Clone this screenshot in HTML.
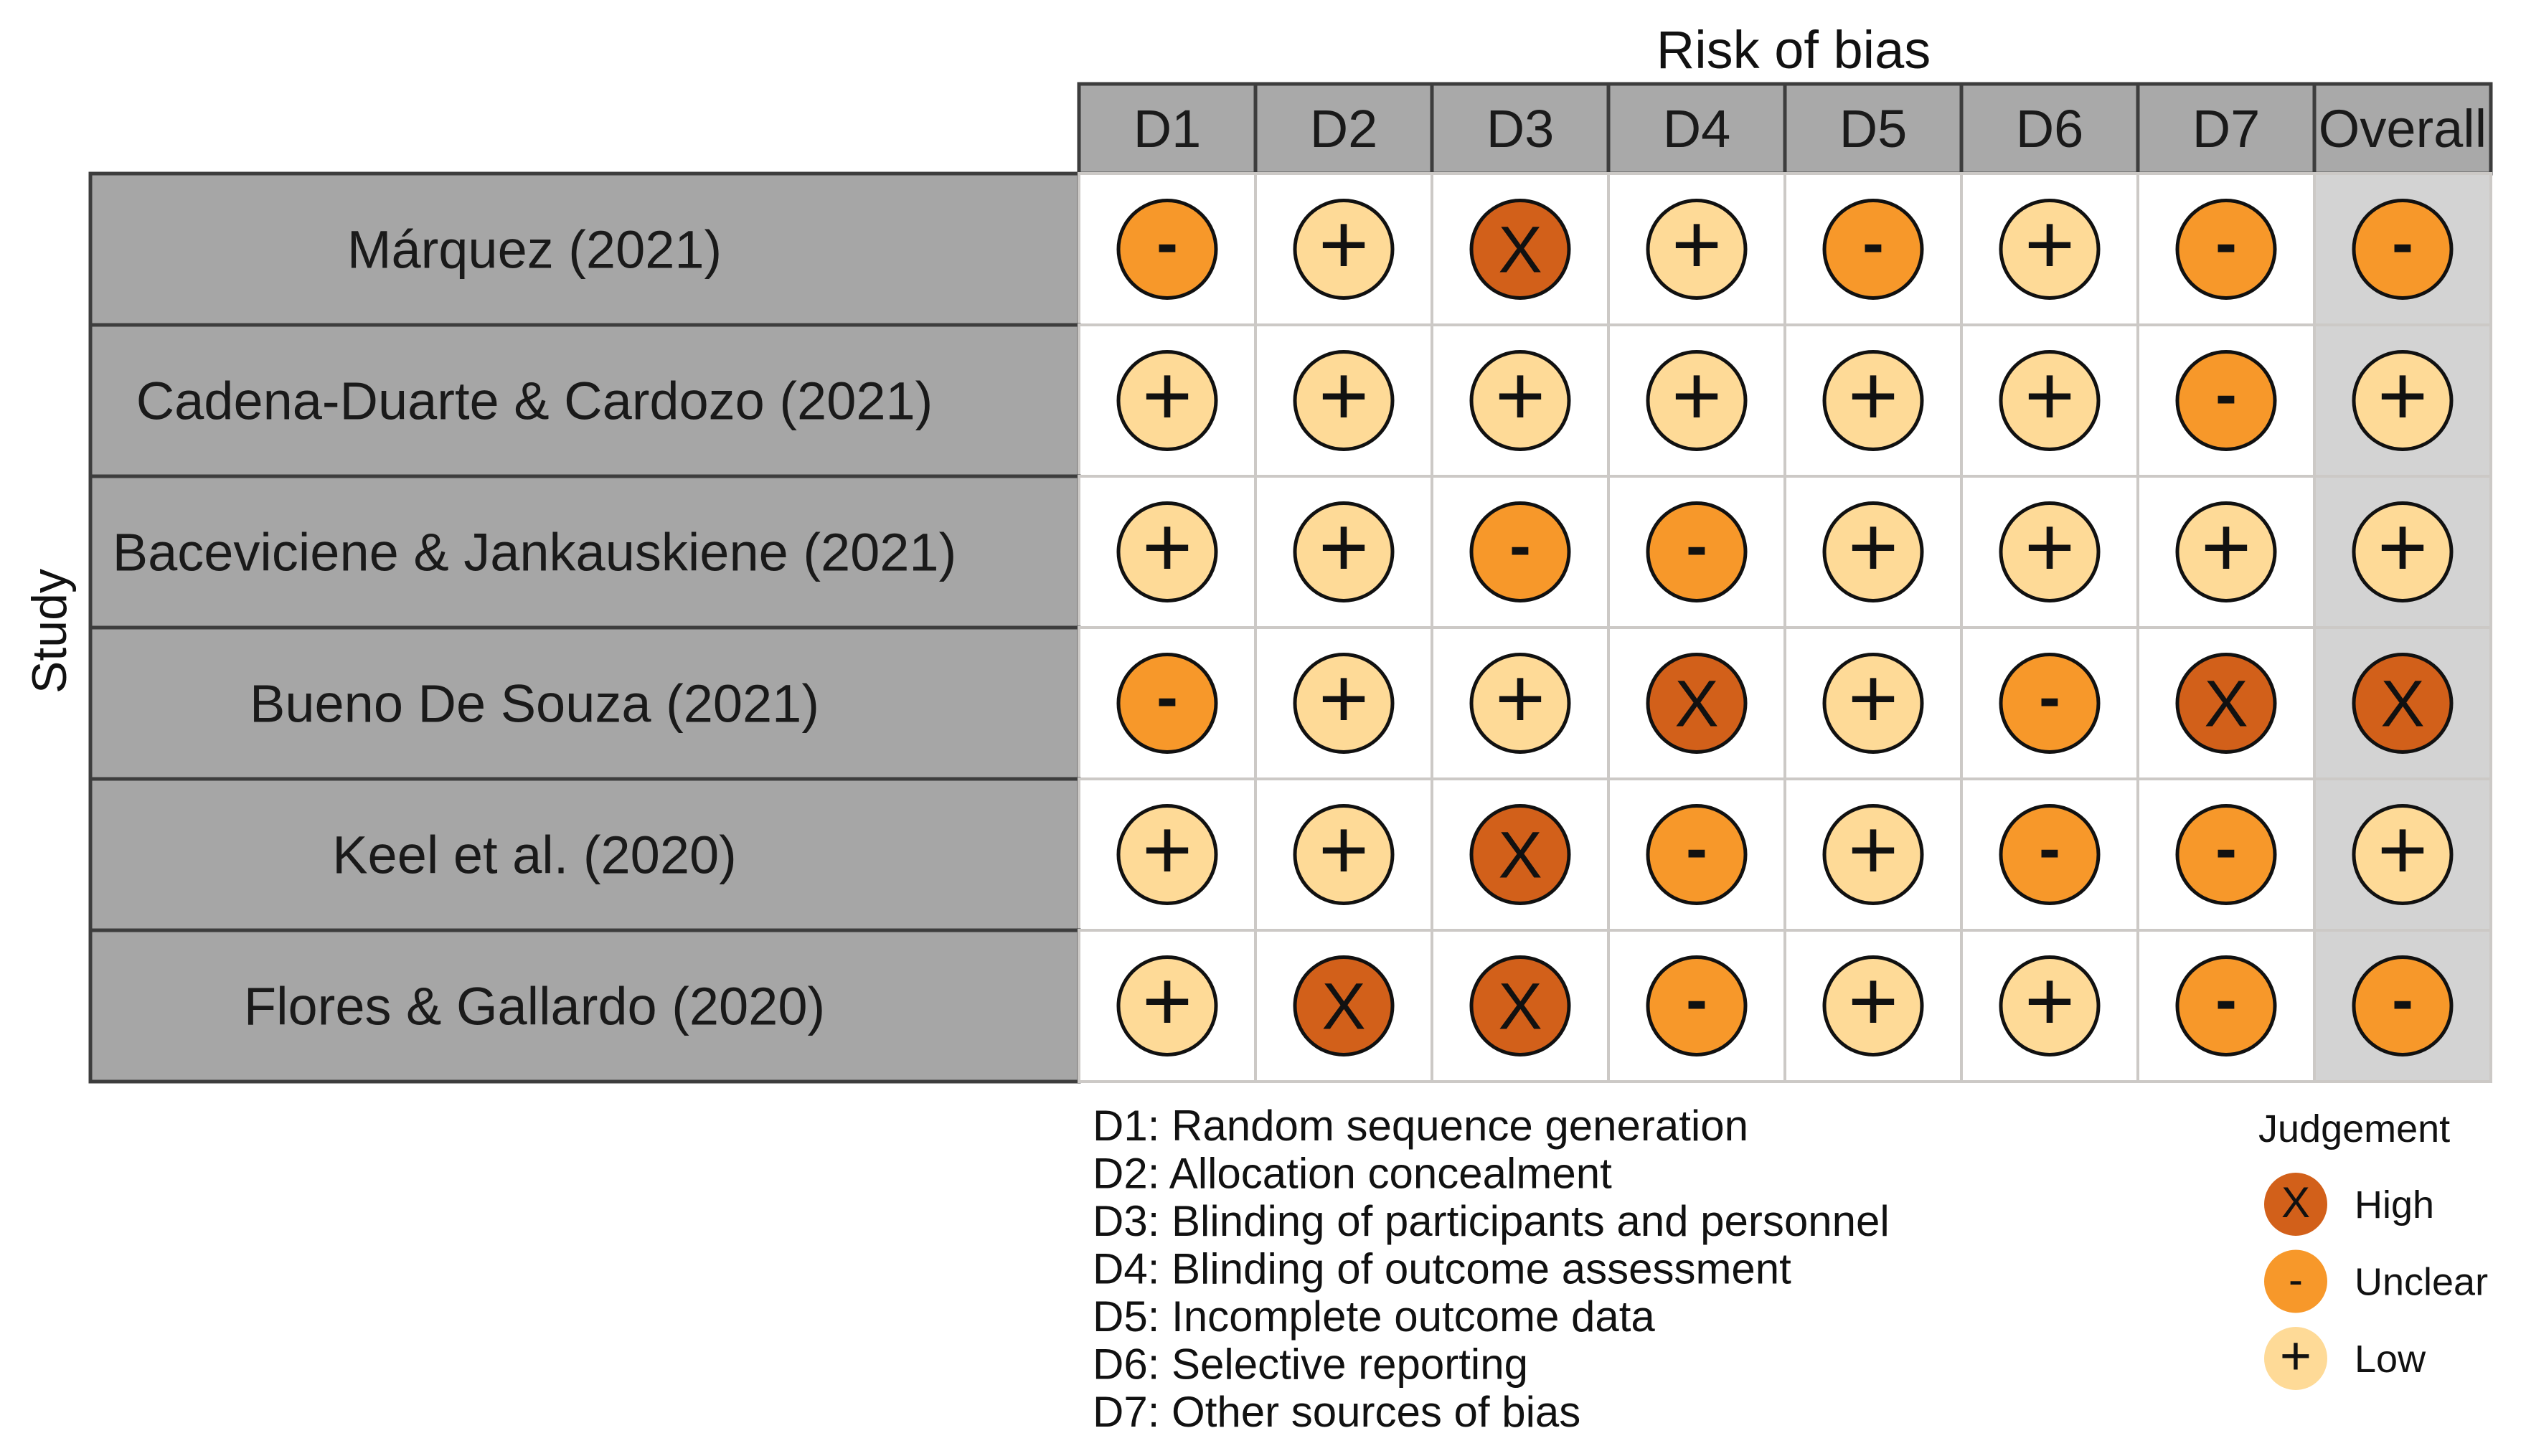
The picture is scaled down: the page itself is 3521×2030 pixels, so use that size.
<!DOCTYPE html>
<html><head><meta charset="utf-8"><style>
html,body{margin:0;padding:0;background:#fff;}
svg{display:block;font-family:"Liberation Sans",sans-serif;}
</style></head><body>
<svg id="chart" width="3521" height="2030" viewBox="0 0 3521 2030" xmlns="http://www.w3.org/2000/svg">
<text x="2500" y="95" font-size="74" text-anchor="middle" fill="#111">Risk of bias</text>
<text transform="translate(92,880) rotate(-90)" font-size="68" text-anchor="middle" fill="#111">Study</text>
<g id="grid"></g>
<g id="legend"></g>
</svg>
<script>
const studies = ["Márquez (2021)","Cadena-Duarte & Cardozo (2021)","Bacevicíene & Jankauskiene (2021)".replace("í","i"),"Bueno De Souza (2021)","Keel et al. (2020)","Flores & Gallardo (2020)"];
const domains = ["D1","D2","D3","D4","D5","D6","D7","Overall"];
const judgements = [
 ["U","L","H","L","U","L","U","U"],
 ["L","L","L","L","L","L","U","L"],
 ["L","L","U","U","L","L","L","L"],
 ["U","L","L","H","L","U","H","H"],
 ["L","L","H","U","L","U","U","L"],
 ["L","H","H","U","L","L","U","U"]
];
const domainDescriptions = ["D1: Random sequence generation","D2: Allocation concealment","D3: Blinding of participants and personnel","D4: Blinding of outcome assessment","D5: Incomplete outcome data","D6: Selective reporting","D7: Other sources of bias"];
const legendKeys = ["H","U","L"];
const legendLabels = ["High","Unclear","Low"];

const NS="http://www.w3.org/2000/svg";
const fill={H:"#D2601A",U:"#F7982A",L:"#FEDA97"};
const sym={H:"X",U:"-",L:"+"};
const gx0=1504, colW=246, gy0=242, rowH=211, hy0=117, lx0=126;
const colX=i=>gx0+i*colW, rowY=j=>gy0+j*rowH;
function mk(tag,attrs,parent){const e=document.createElementNS(NS,tag);for(const k in attrs)e.setAttribute(k,attrs[k]);parent.appendChild(e);return e;}
const g=document.getElementById('grid');
domains.forEach((d,i)=>{
 const r=mk('rect',{x:colX(i),y:hy0,width:colW,height:gy0-hy0,fill:"#A9A9A9",stroke:"#3d3d3d","stroke-width":5},g);
 
 
 const t=mk('text',{x:colX(i)+colW/2,y:hy0+88,"font-size":74,"text-anchor":"middle",fill:"#1a1a1a"},g);
 t.textContent=d;
 
 
});
studies.forEach((s,j)=>{
 const r=mk('rect',{x:lx0,y:rowY(j),width:gx0-lx0,height:rowH,fill:"#A6A6A6",stroke:"#3d3d3d","stroke-width":5},g);
 
 
 const t=mk('text',{x:745,y:rowY(j)+rowH/2+26,"font-size":74,"text-anchor":"middle",fill:"#1a1a1a"},g);
 t.textContent=s;
 
 
 domains.forEach((d,i)=>{
  const c=mk('rect',{x:colX(i),y:rowY(j),width:colW,height:rowH,fill:i===7?"#D3D3D3":"#FFFFFF",stroke:"#CCC9C6","stroke-width":4},g);
  
  
  const v=judgements[j][i];
  const cx=colX(i)+colW/2, cy=rowY(j)+rowH/2;
  const ci=mk('circle',{cx:cx,cy:cy,r:68,fill:fill[v],stroke:"#111","stroke-width":5},g);
  
  
  const st=mk('text',{x:cx,y:cy+(v==="U"?22:(v==="L"?34:32)),"font-size":v==="L"?120:(v==="H"?92:90),"text-anchor":"middle",fill:"#111","font-weight":v==="U"?"bold":"normal"},g);
  st.textContent=sym[v];
  
  
 });
});
const lg=document.getElementById('legend');
domainDescriptions.forEach((s,k)=>{
 const t=mk('text',{x:1523,y:1590+k*66.5,"font-size":60,fill:"#111"},lg);
 t.textContent=s;
 
 
});
const jt=mk('text',{x:3148,y:1592,"font-size":54,fill:"#111"},lg);
jt.textContent="Judgement";


legendKeys.forEach((k,n)=>{
 const cy=1679+n*107.5;
 const c=mk('circle',{cx:3200,cy:cy,r:44,fill:fill[k]},lg);
 
 
 const s=mk('text',{x:3200,y:cy+(k==="L"?22:18),"font-size":k==="L"?76:60,"text-anchor":"middle",fill:"#111"},lg);
 s.textContent=sym[k];
 
 
 const t=mk('text',{x:3282,y:cy+19,"font-size":54,fill:"#111"},lg);
 t.textContent=legendLabels[n];
 
 
});
</script>
</body></html>
